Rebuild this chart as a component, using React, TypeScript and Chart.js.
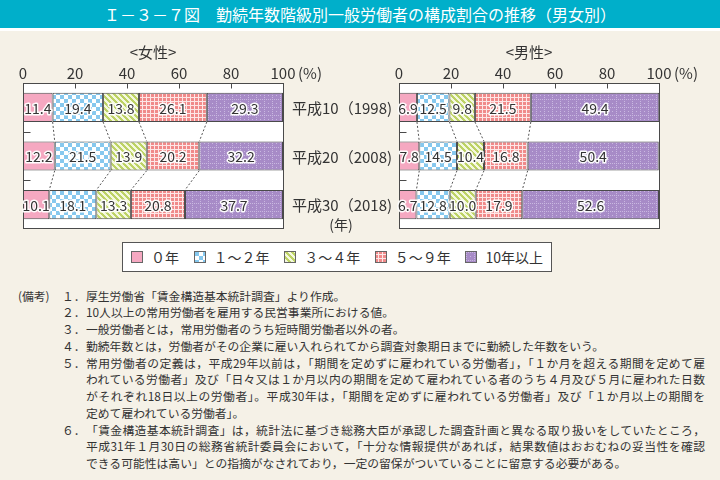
import React, { useEffect, useRef, useState } from 'react';
import { Chart, registerables } from 'chart.js';
Chart.register(...registerables);

const categories = ['平成10（1998)', '平成20（2008)', '平成30（2018)'];
const seriesNames = ['０年', '１～２年', '３～４年', '５～９年', '10年以上'];
const xTicks = [0, 20, 40, 60, 80, 100];

const femaleYears0 = [11.4, 12.2, 10.1];
const femaleYears1to2 = [19.4, 21.5, 18.1];
const femaleYears3to4 = [13.8, 13.9, 13.3];
const femaleYears5to9 = [26.1, 20.2, 20.8];
const femaleYears10plus = [29.3, 32.2, 37.7];

const maleYears0 = [6.9, 7.8, 6.7];
const maleYears1to2 = [12.5, 14.5, 12.8];
const maleYears3to4 = [9.8, 10.4, 10.0];
const maleYears5to9 = [21.5, 16.8, 17.9];
const maleYears10plus = [49.4, 50.4, 52.6];

const femaleSeries = [femaleYears0, femaleYears1to2, femaleYears3to4, femaleYears5to9, femaleYears10plus];
const maleSeries = [maleYears0, maleYears1to2, maleYears3to4, maleYears5to9, maleYears10plus];

const titleText = 'Ｉ－３－７図　勤続年数階級別一般労働者の構成割合の推移（男女別）';
const femaleHeader = '<女性>';
const maleHeader = '<男性>';
const unitPercent = '(%)';
const unitYear = '(年)';
const notesLabel = '(備考)';
const noteItems = [
  { num: '１．', lines: ['厚生労働省「賃金構造基本統計調査」より作成。'] },
  { num: '２．', lines: ['10人以上の常用労働者を雇用する民営事業所における値。'] },
  { num: '３．', lines: ['一般労働者とは，常用労働者のうち短時間労働者以外の者。'] },
  { num: '４．', lines: ['勤続年数とは，労働者がその企業に雇い入れられてから調査対象期日までに勤続した年数をいう。'] },
  {
    num: '５．',
    lines: [
      '常用労働者の定義は，平成29年以前は，「期間を定めずに雇われている労働者」，「１か月を超える期間を定めて雇',
      'われている労働者」及び「日々又は１か月以内の期間を定めて雇われている者のうち４月及び５月に雇われた日数',
      'がそれぞれ18日以上の労働者」。平成30年は，「期間を定めずに雇われている労働者」及び「１か月以上の期間を',
      '定めて雇われている労働者」。',
    ],
  },
  {
    num: '６．',
    lines: [
      '「賃金構造基本統計調査」は，統計法に基づき総務大臣が承認した調査計画と異なる取り扱いをしていたところ，',
      '平成31年１月30日の総務省統計委員会において，「十分な情報提供があれば，結果数値はおおむねの妥当性を確認',
      'できる可能性は高い」との指摘がなされており，一定の留保がついていることに留意する必要がある。',
    ],
  },
];

const FONT_JP = '"Noto Sans CJK JP", "Noto Sans", sans-serif';
const TEXT = '#333333';
const EDGE = '#4a4a4a';

function makeTile(kind: number): HTMLCanvasElement {
  const c = document.createElement('canvas');
  const g = c.getContext('2d') as CanvasRenderingContext2D;
  if (kind === 0) {
    c.width = c.height = 4;
    g.fillStyle = '#f5a8c1';
    g.fillRect(0, 0, 4, 4);
  } else if (kind === 1) {
    c.width = c.height = 8;
    g.fillStyle = '#ffffff';
    g.fillRect(0, 0, 8, 8);
    g.fillStyle = '#86c8ee';
    g.fillRect(0, 0, 4, 4);
    g.fillRect(4, 4, 4, 4);
  } else if (kind === 2) {
    const n = 6;
    c.width = c.height = n;
    for (let y = 0; y < n; y++) {
      for (let x = 0; x < n; x++) {
        g.fillStyle = (x - y + n * 2) % n < 3 ? '#bdd265' : '#f4f8de';
        g.fillRect(x, y, 1, 1);
      }
    }
  } else if (kind === 3) {
    c.width = c.height = 8;
    g.fillStyle = '#f08a8a';
    g.fillRect(0, 0, 8, 8);
    g.fillStyle = '#fde6e6';
    g.fillRect(2, 0, 1, 8);
    g.fillRect(6, 0, 1, 8);
    g.fillRect(0, 2, 8, 1);
    g.fillRect(0, 6, 8, 1);
  } else {
    c.width = c.height = 8;
    g.fillStyle = '#a78bc7';
    g.fillRect(0, 0, 8, 8);
    g.fillStyle = '#c9b8e0';
    for (let i = 0; i < 8; i += 2) {
      g.fillRect(i, 0, 1, 1);
      g.fillRect(0, i, 1, 1);
    }
    g.fillRect(4, 4, 1, 1);
  }
  return c;
}

type PanelCfg = { header: string; showCategories: boolean };

function makePanelPlugin(cfg: PanelCfg) {
  return {
    id: 'panel',
    beforeDatasetsDraw(chart: any) {
      const { ctx, chartArea: a } = chart;
      ctx.save();
      ctx.fillStyle = '#ffffff';
      ctx.fillRect(a.left, a.top, a.right - a.left, a.bottom - a.top);
      ctx.restore();
    },
    afterDatasetsDraw(chart: any) {
      const { ctx, chartArea: a, scales } = chart;
      const xs = scales.x;
      const ys = scales.y;
      const n = chart.data.labels.length;
      ctx.save();
      // dotted connectors between consecutive bars
      ctx.strokeStyle = '#555555';
      ctx.lineWidth = 1;
      ctx.setLineDash([2, 2]);
      const nd = chart.data.datasets.length;
      for (let d = 0; d < nd - 1; d++) {
        const meta = chart.getDatasetMeta(d);
        for (let i = 0; i < n - 1; i++) {
          const p1 = meta.data[i].getProps(['x', 'y', 'height'], true);
          const p2 = meta.data[i + 1].getProps(['x', 'y', 'height'], true);
          ctx.beginPath();
          ctx.moveTo(p1.x, p1.y + p1.height / 2);
          ctx.lineTo(p2.x, p2.y - p2.height / 2);
          ctx.stroke();
        }
      }
      ctx.setLineDash([]);
      // frame
      ctx.strokeStyle = EDGE;
      const L = Math.round(a.left) + 0.5;
      const T = Math.round(a.top) + 0.5;
      const R = Math.round(a.right) + 0.5;
      const B = Math.round(a.bottom) - 0.5;
      ctx.strokeRect(L, T, R - L, B - T);
      // inward top ticks
      xTicks.slice(1, -1).forEach((v) => {
        const px = Math.round(xs.getPixelForValue(v)) + 0.5;
        ctx.beginPath();
        ctx.moveTo(px, T);
        ctx.lineTo(px, T + 5);
        ctx.stroke();
      });
      // inward left ticks between categories
      for (let i = 0; i < n - 1; i++) {
        const py = Math.round((ys.getPixelForValue(i) + ys.getPixelForValue(i + 1)) / 2) + 0.5;
        ctx.beginPath();
        ctx.moveTo(L, py);
        ctx.lineTo(L + 7, py);
        ctx.stroke();
      }
      // value labels
      ctx.font = `14px ${FONT_JP}`;
      ctx.textAlign = 'center';
      ctx.textBaseline = 'middle';
      ctx.lineJoin = 'round';
      chart.data.datasets.forEach((ds: any, d: number) => {
        const meta = chart.getDatasetMeta(d);
        meta.data.forEach((el: any, i: number) => {
          const p = el.getProps(['x', 'y', 'base'], true);
          const cx = (p.x + p.base) / 2;
          const t = Number(ds.data[i]).toFixed(1);
          ctx.lineWidth = 3;
          ctx.strokeStyle = 'rgba(255,255,255,0.95)';
          ctx.strokeText(t, cx, p.y + 1);
          ctx.fillStyle = TEXT;
          ctx.fillText(t, cx, p.y + 1);
        });
      });
      // unit after last tick label
      ctx.font = `15px ${FONT_JP}`;
      ctx.fillStyle = TEXT;
      ctx.textAlign = 'left';
      ctx.fillText(unitPercent, xs.getPixelForValue(100) + 15, a.top - 10);
      // header
      ctx.textAlign = 'center';
      ctx.fillText(cfg.header, (a.left + a.right) / 2, a.top - 31);
      // category labels
      if (cfg.showCategories) {
        ctx.textAlign = 'left';
        chart.data.labels.forEach((lab: string, i: number) => {
          ctx.fillText(lab, a.right + 9, ys.getPixelForValue(i) + 1);
        });
        ctx.textAlign = 'center';
        ctx.font = `14px ${FONT_JP}`;
        ctx.fillText(unitYear, a.right + 58, ys.getPixelForValue(n - 1) + 20);
      }
      ctx.restore();
    },
  };
}

function buildChart(
  canvas: HTMLCanvasElement,
  series: number[][],
  tiles: HTMLCanvasElement[],
  padding: { left: number; right: number; top: number; bottom: number },
  cfg: PanelCfg
) {
  const ctx = canvas.getContext('2d') as CanvasRenderingContext2D;
  const patterns = tiles.map((t) => ctx.createPattern(t, 'repeat') as CanvasPattern);
  return new Chart(canvas, {
    type: 'bar',
    data: {
      labels: categories,
      datasets: series.map((vals, i) => ({
        label: seriesNames[i],
        data: vals,
        backgroundColor: patterns[i],
        borderColor: EDGE,
        borderWidth: 1,
        borderSkipped: false,
        barPercentage: 0.6,
        categoryPercentage: 1,
        stack: 's',
      })),
    },
    options: {
      indexAxis: 'y',
      responsive: false,
      maintainAspectRatio: false,
      animation: false,
      events: [],
      layout: { padding },
      plugins: { legend: { display: false }, tooltip: { enabled: false } },
      scales: {
        x: {
          position: 'top',
          min: 0,
          max: 100,
          stacked: true,
          afterBuildTicks: (s: any) => {
            s.ticks = xTicks.map((v) => ({ value: v }));
          },
          afterFit: (s: any) => {
            s.height = 23;
          },
          ticks: {
            color: TEXT,
            font: { size: 15, family: FONT_JP },
            padding: 1,
            maxRotation: 0,
            autoSkip: false,
          },
          grid: { display: false, drawTicks: false },
          border: { display: false },
        },
        y: { stacked: true, display: false },
      },
    } as any,
    plugins: [makePanelPlugin(cfg)],
  });
}

export default function App() {
  const fRef = useRef<HTMLCanvasElement>(null);
  const mRef = useRef<HTMLCanvasElement>(null);
  const [swatches, setSwatches] = useState<string[]>([]);

  useEffect(() => {
    const tiles = [0, 1, 2, 3, 4].map(makeTile);
    setSwatches(tiles.map((t) => t.toDataURL()));
    const c1 = buildChart(
      fRef.current as HTMLCanvasElement,
      femaleSeries,
      tiles,
      { left: 23, right: 117, top: 25, bottom: 6 },
      { header: femaleHeader, showCategories: true }
    );
    const c2 = buildChart(
      mRef.current as HTMLCanvasElement,
      maleSeries,
      tiles,
      { left: 39, right: 61, top: 25, bottom: 6 },
      { header: maleHeader, showCategories: false }
    );
    return () => {
      c1.destroy();
      c2.destroy();
    };
  }, []);

  const lineH = 16.75;
  let lineIdx = 0;
  const noteRows: React.ReactNode[] = [];
  noteItems.forEach((item, k) => {
    item.lines.forEach((ln, j) => {
      const isLast = j === item.lines.length - 1;
      noteRows.push(
        <div
          key={`${k}-${j}`}
          style={{
            position: 'absolute',
            left: 0,
            top: lineIdx * lineH,
            width: 720,
            height: lineH,
            lineHeight: `${lineH}px`,
          }}
        >
          {k === 0 && j === 0 && (
            <span style={{ position: 'absolute', left: 18 }}>{notesLabel}</span>
          )}
          {j === 0 && <span style={{ position: 'absolute', left: 62 }}>{item.num}</span>}
          <span
            style={{
              position: 'absolute',
              left: 86,
              width: isLast ? undefined : 619,
              whiteSpace: 'nowrap',
              textAlign: isLast ? 'left' : 'justify',
              textAlignLast: isLast ? 'left' : 'justify',
              display: 'inline-block',
            }}
          >
            {ln}
          </span>
        </div>
      );
      lineIdx++;
    });
  });

  return (
    <div
      style={{
        position: 'absolute',
        left: 0,
        top: 0,
        width: 720,
        height: 480,
        background: '#f5f1e7',
        overflow: 'hidden',
        fontFamily: FONT_JP,
        color: TEXT,
      }}
    >
      <div
        style={{
          position: 'absolute',
          left: 0,
          top: 0,
          width: 720,
          height: 28,
          background: '#00afca',
          color: '#ffffff',
          fontSize: 16,
          lineHeight: '28px',
          textAlign: 'center',
          whiteSpace: 'nowrap',
        }}
      >
        {titleText}
      </div>
      <div style={{ position: 'absolute', left: 0, top: 28, width: 720, height: 3, background: '#ffffff' }} />
      <canvas
        ref={fRef}
        width={400}
        height={200}
        style={{ position: 'absolute', left: 0, top: 35, width: 400, height: 200 }}
      />
      <canvas
        ref={mRef}
        width={360}
        height={200}
        style={{ position: 'absolute', left: 360, top: 35, width: 360, height: 200 }}
      />
      <div
        style={{
          position: 'absolute',
          left: 122,
          top: 242,
          width: 430,
          height: 30,
          boxSizing: 'border-box',
          background: '#ffffff',
          border: '1px solid #555555',
          display: 'flex',
          alignItems: 'center',
          justifyContent: 'space-between',
          padding: '0 8px',
          fontSize: 14,
        }}
      >
        {seriesNames.map((name, i) => (
          <div key={name} style={{ display: 'flex', alignItems: 'center' }}>
            <span
              style={{
                display: 'inline-block',
                width: 12,
                height: 12,
                boxSizing: 'border-box',
                border: '1px solid #666666',
                backgroundImage: swatches[i] ? `url(${swatches[i]})` : undefined,
                marginRight: 8,
              }}
            />
            <span style={{ lineHeight: '16px', whiteSpace: 'nowrap' }}>{name}</span>
          </div>
        ))}
      </div>
      <div style={{ position: 'absolute', left: 0, top: 287.5, width: 720, fontSize: 11.8 }}>{noteRows}</div>
    </div>
  );
}
